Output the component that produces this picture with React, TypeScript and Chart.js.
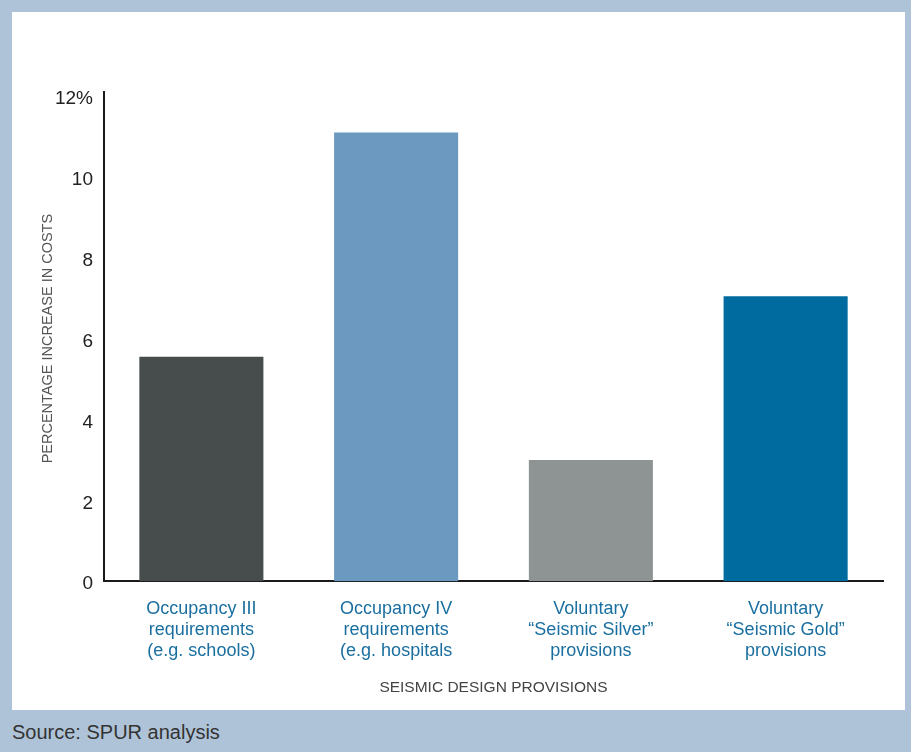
import React, { useEffect, useRef } from "react";
import { Chart, registerables } from "chart.js";

Chart.register(...registerables);

const categories: string[][] = [
  ["Occupancy III", "requirements", "(e.g. schools)"],
  ["Occupancy IV", "requirements", "(e.g. hospitals"],
  ["Voluntary", "\u201cSeismic Silver\u201d", "provisions"],
  ["Voluntary", "\u201cSeismic Gold\u201d", "provisions"],
];
const costIncrease: number[] = [5.55, 11.1, 3.0, 7.05];
const barColors: string[] = ["#474d4c", "#6b99c0", "#8e9393", "#006b9f"];
const yTicks: number[] = [0, 2, 4, 6, 8, 10, 12];

const FONT = "'Liberation Sans Narrow', 'Liberation Sans', sans-serif";

const axisExtension = {
  id: "axisExtension",
  afterDraw(chart: any) {
    const { ctx, chartArea } = chart;
    ctx.save();
    ctx.strokeStyle = "#1a1a1a";
    ctx.lineWidth = 2;
    ctx.beginPath();
    ctx.moveTo(chartArea.left, chartArea.top - 5);
    ctx.lineTo(chartArea.left, chartArea.top + 1);
    ctx.stroke();
    ctx.restore();
  },
};

export default function App() {
  const ref = useRef<HTMLCanvasElement | null>(null);

  useEffect(() => {
    document.body.style.margin = "0";
    if (!ref.current) return;
    const chart = new Chart(ref.current, {
      type: "bar",
      data: {
        labels: categories,
        datasets: [
          {
            data: costIncrease,
            backgroundColor: barColors,
            barPercentage: 0.637,
            categoryPercentage: 1,
          },
        ],
      },
      plugins: [axisExtension],
      options: {
        animation: false,
        responsive: false,
        devicePixelRatio: 1,
        layout: { padding: { top: 84, left: 27, right: 22, bottom: 11 } },
        plugins: { legend: { display: false }, tooltip: { enabled: false } },
        scales: {
          x: {
            grid: { display: false, drawTicks: false },
            border: { display: true, color: "#1a1a1a", width: 2 },
            ticks: {
              color: "#1a6fa0",
              font: { family: FONT, size: 18, lineHeight: 1.17 },
              padding: 17,
              maxRotation: 0,
              autoSkip: false,
            },
            title: {
              display: true,
              text: "SEISMIC DESIGN PROVISIONS",
              color: "#444",
              font: { family: FONT, size: 15.5 },
              padding: { top: 0, bottom: 2 },
            },
          },
          y: {
            min: 0,
            max: 12,
            afterBuildTicks: (scale: any) => {
              scale.ticks = yTicks.map((v) => ({ value: v }));
            },
            afterFit: (scale: any) => {
              scale.width = 65;
            },
            grid: { display: false, drawTicks: false },
            border: { display: true, color: "#1a1a1a", width: 2 },
            ticks: {
              color: "#222",
              font: { family: FONT, size: 19 },
              padding: 11,
              labelOffset: 3,
              callback: (v: any) => (v === 12 ? "12%" : String(v)),
            },
            title: {
              display: true,
              text: "PERCENTAGE INCREASE IN COSTS",
              color: "#555",
              font: { family: FONT, size: 14.5 },
              padding: 0,
            },
          },
        },
      },
    });
    return () => chart.destroy();
  }, []);

  return (
    <div
      style={{
        position: "fixed",
        left: 0,
        top: 0,
        width: 911,
        height: 752,
        background: "#afc3d8",
      }}
    >
      <div
        style={{
          position: "absolute",
          left: 12,
          top: 12,
          width: 893,
          height: 698,
          background: "#ffffff",
        }}
      >
        <canvas ref={ref} width={893} height={698} style={{ display: "block" }} />
      </div>
      <div
        style={{
          position: "absolute",
          left: 12,
          top: 718,
          fontFamily: FONT,
          fontSize: 20,
          color: "#333",
          lineHeight: "28px",
        }}
      >
        Source: SPUR analysis
      </div>
    </div>
  );
}
